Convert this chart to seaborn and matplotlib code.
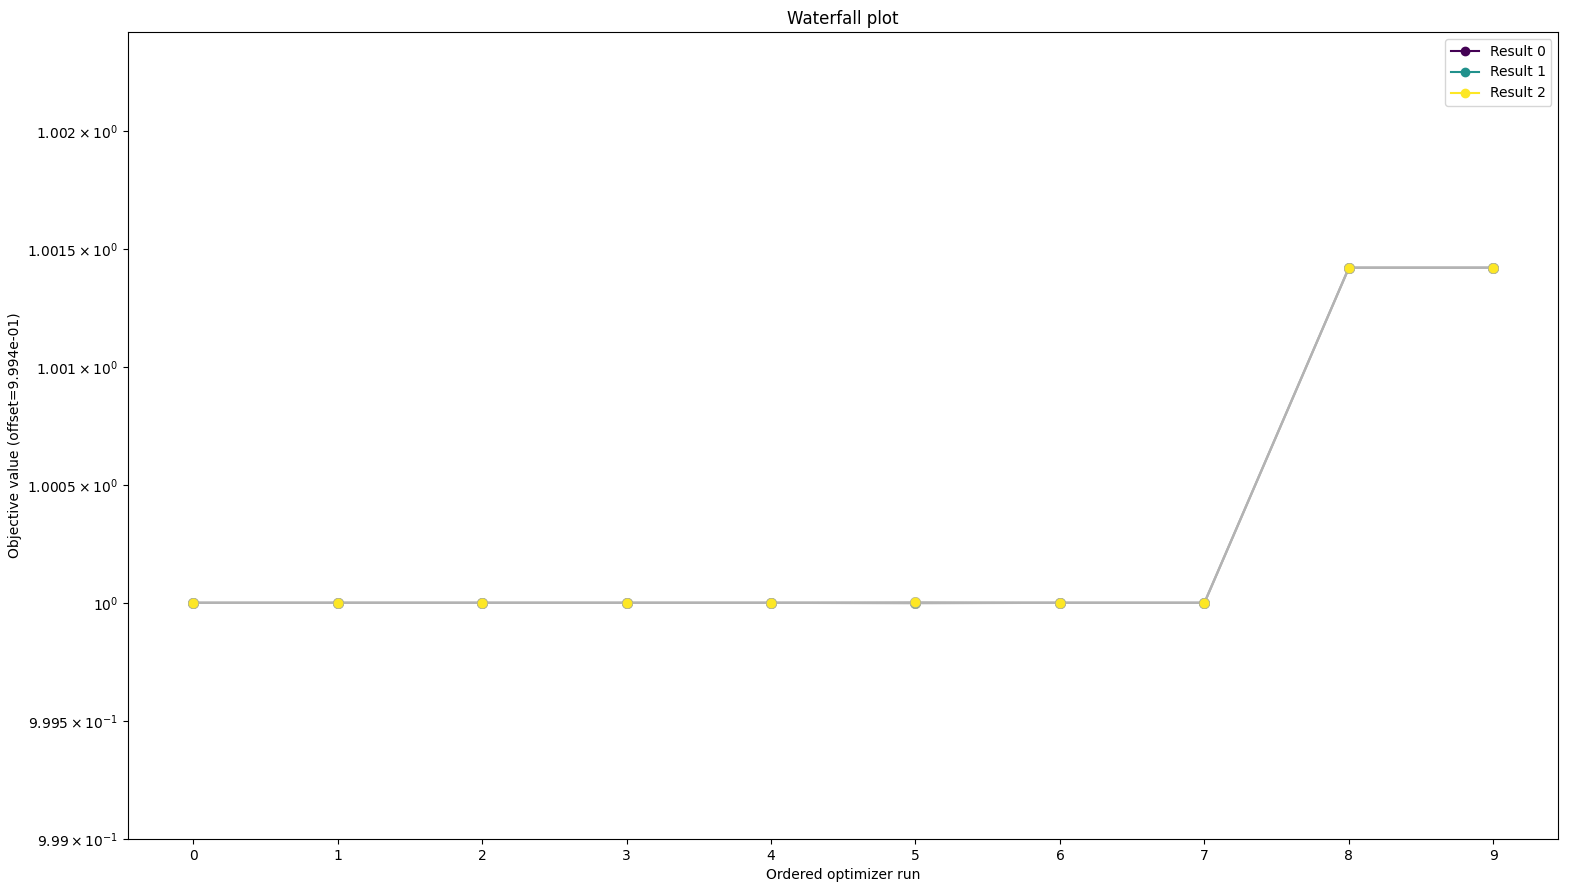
import numpy as np
import pandas as pd
import matplotlib
matplotlib.use("Agg")
import matplotlib.pyplot as plt
import seaborn as sns
from matplotlib.lines import Line2D
from matplotlib.ticker import FixedLocator, FixedFormatter, NullLocator

# data
runs = list(range(10))
result_0 = [1.0, 1.0, 1.0, 1.0, 1.0, 1.0, 1.0, 1.0, 1.00142, 1.00142]
result_1 = [1.0, 1.0, 1.0, 1.0, 1.0, 0.999998, 1.0, 1.0, 1.00142, 1.00142]
result_2 = [1.0, 1.0, 1.0, 1.0, 1.0, 1.000002, 1.0, 1.0, 1.00142, 1.00142]
names = ["Result 0", "Result 1", "Result 2"]
colors = ["#440154", "#21918c", "#fde725"]

ytick_vals = [0.999, 0.9995, 1.0, 1.0005, 1.001, 1.0015, 1.002]
ytick_labels = [r"$9.99\times10^{-1}$", r"$9.995\times10^{-1}$", r"$10^{0}$",
                r"$1.0005\times10^{0}$", r"$1.001\times10^{0}$",
                r"$1.0015\times10^{0}$", r"$1.002\times10^{0}$"]

df = pd.DataFrame({
    "run": runs * 3,
    "value": result_0 + result_1 + result_2,
    "result": sum([[n] * len(runs) for n in names], []),
})

fig = plt.figure(figsize=(15.71, 8.94), dpi=100)
ax = fig.add_axes([0.0815, 0.0615, 0.9105, 0.9027])

for name, col in zip(names, colors):
    sub = df[df["result"] == name]
    sns.lineplot(data=sub, x="run", y="value", color=(0.7, 0.7, 0.7), alpha=0.9,
                 linewidth=1.6, ax=ax, legend=False, zorder=1)
    sns.scatterplot(data=sub, x="run", y="value", color=col, s=55,
                    edgecolor=(0.7, 0.7, 0.6), linewidth=0.5, ax=ax, legend=False, zorder=2)

ax.set_yscale("log")
ax.set_ylim(0.999, 1.00242)
ax.set_xlim(-0.45, 9.45)
ax.yaxis.set_major_locator(FixedLocator(ytick_vals))
ax.yaxis.set_major_formatter(FixedFormatter(ytick_labels))
ax.yaxis.set_minor_locator(NullLocator())
ax.set_xticks(runs)

handles = [Line2D([0], [0], color=c, marker="o", label=n) for n, c in zip(names, colors)]
ax.legend(handles=handles, loc="upper right")

ax.set_title("Waterfall plot")
ax.set_xlabel("Ordered optimizer run")
ax.set_ylabel("Objective value (offset=9.994e-01)")

plt.savefig("out.png")
plt.close()
